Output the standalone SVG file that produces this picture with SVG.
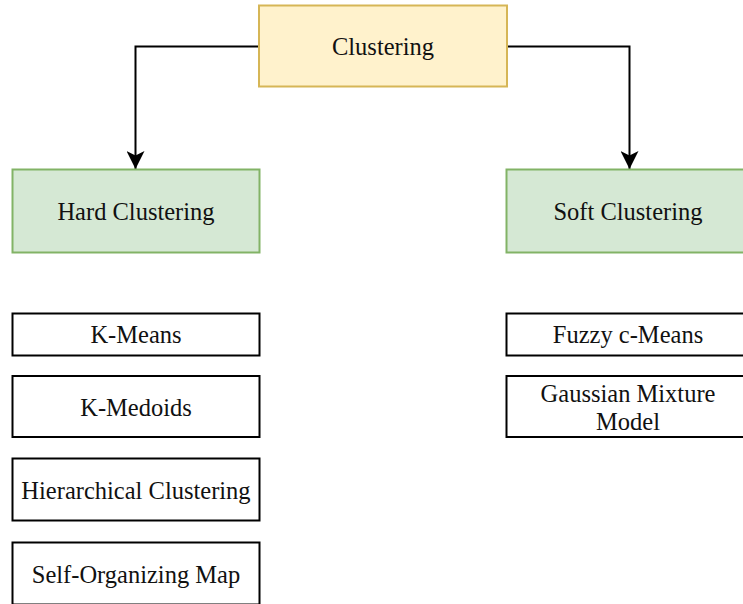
<svg xmlns="http://www.w3.org/2000/svg" width="743" height="604" viewBox="0 0 743 604">
<style>
text{font-family:"Liberation Serif","Times New Roman",serif;font-size:24.5px;fill:#111;text-anchor:middle}
.root{fill:#fff2cc;stroke:#d6b656;stroke-width:2}
.cat{fill:#d5e8d4;stroke:#82b366;stroke-width:2}
.leaf{fill:#fff;stroke:#000;stroke-width:2}
.conn{fill:none;stroke:#000;stroke-width:2}
</style>
<defs>
<marker id="arr" viewBox="0 0 18 18" refX="18" refY="9" markerWidth="18" markerHeight="18" markerUnits="userSpaceOnUse" orient="auto">
<path d="M0,0 L18,9 L0,18 L4.5,9 Z" fill="#000"/>
</marker>
</defs>
<rect width="743" height="604" fill="#fff"/>
<g id="connectors">
<path class="conn" d="M259,46.5 H135.5 V169" marker-end="url(#arr)"/>
<path class="conn" d="M507,46.5 H629.5 V169" marker-end="url(#arr)"/>
</g>
<g id="clustering"><rect class="root" x="259" y="5.5" width="248" height="81"/><text x="383" y="55">Clustering</text></g>
<g id="hard"><rect class="cat" x="12.5" y="169.5" width="247" height="83"/><text x="136" y="220">Hard Clustering</text></g>
<g id="soft"><rect class="cat" x="506.5" y="169.5" width="247" height="83"/><text x="628" y="220">Soft Clustering</text></g>
<g id="kmeans"><rect class="leaf" x="12.5" y="313.5" width="247" height="42"/><text x="136" y="343">K-Means</text></g>
<g id="kmedoids"><rect class="leaf" x="12.5" y="376" width="247" height="61"/><text x="136" y="416">K-Medoids</text></g>
<g id="hierarchical"><rect class="leaf" x="12.5" y="458.5" width="247" height="62"/><text x="136" y="499">Hierarchical Clustering</text></g>
<g id="som"><rect class="leaf" x="12.5" y="542.5" width="247" height="62"/><text x="136" y="583">Self-Organizing Map</text></g>
<g id="fuzzy"><rect class="leaf" x="506.5" y="313.5" width="247" height="42"/><text x="628" y="343">Fuzzy c-Means</text></g>
<g id="gmm"><rect class="leaf" x="506.5" y="376" width="247" height="61"/><text x="628" y="402">Gaussian Mixture</text><text x="628" y="430">Model</text></g>
</svg>
